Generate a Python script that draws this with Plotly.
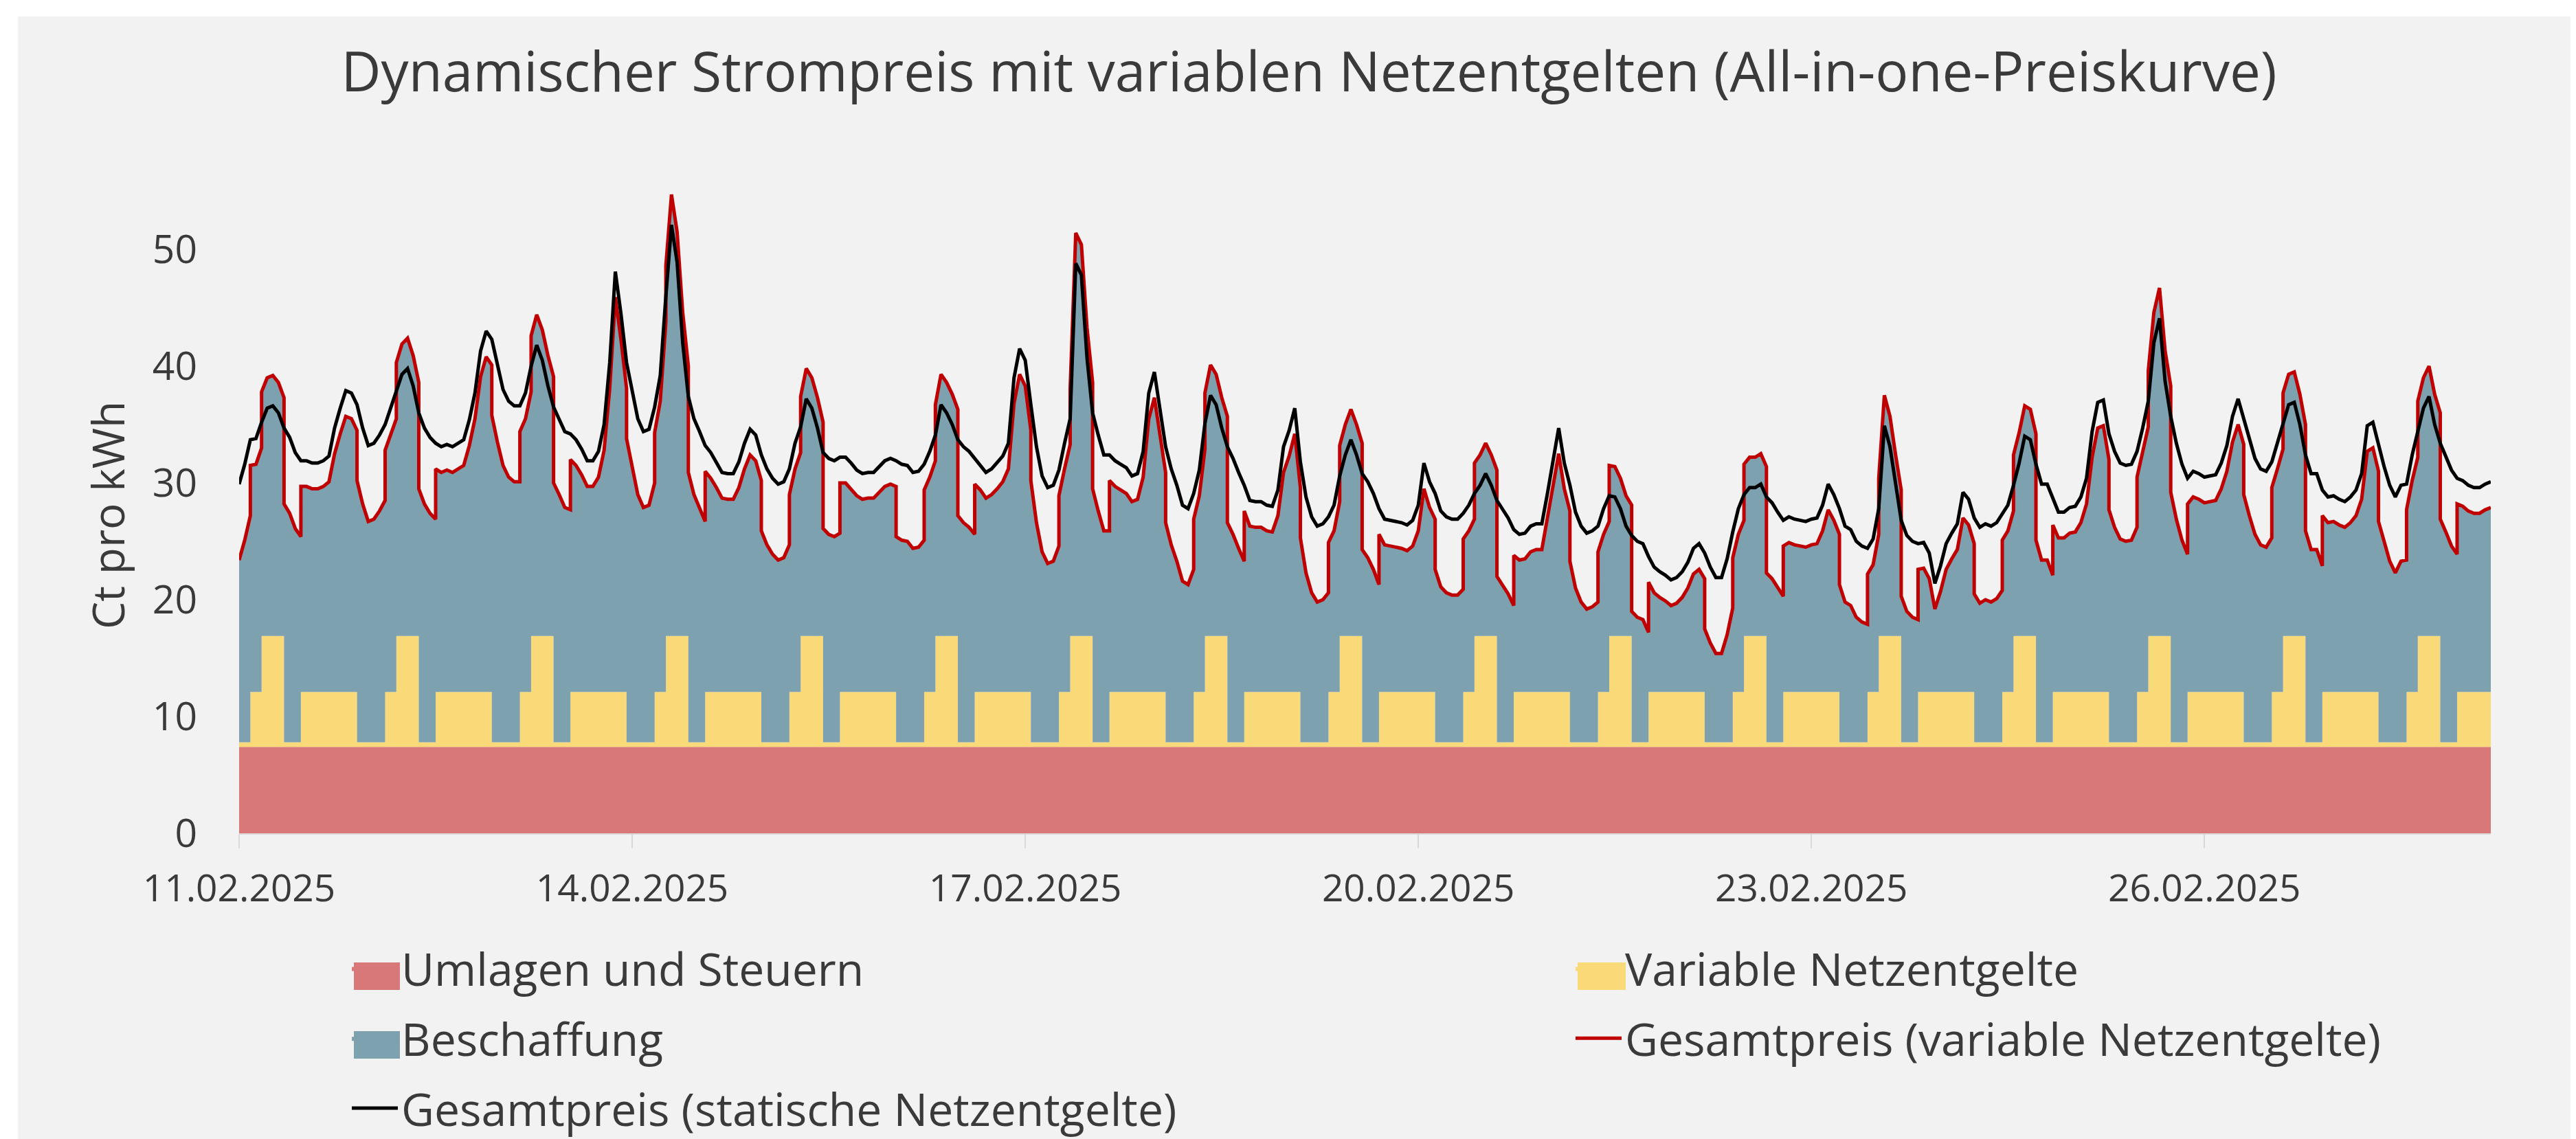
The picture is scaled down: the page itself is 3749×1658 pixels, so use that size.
import pandas as pd
import plotly.graph_objects as go

# ---------------- data ----------------
title_text = "Dynamischer Strompreis mit variablen Netzentgelten (All-in-one-Preiskurve)"
y_title = "Ct pro kWh"
start_time = "2025-02-11 13:00"

# Gesamtpreis mit statischen Netzentgelten (ct/kWh), stündlich ab 11.02.2025 13:00
gesamtpreis_statisch = [
    29.9, 31.6, 33.7, 33.8, 35.2, 36.4, 36.6, 36.0, 34.7, 33.9, 32.6, 31.9, 31.9, 31.7, 31.7, 31.9, 32.3,
    34.7, 36.4, 37.9, 37.7, 36.7, 34.7, 33.2, 33.4, 34.1, 35.0, 36.4, 37.7, 39.3, 39.8, 38.3, 36.0, 34.7,
    33.9, 33.4, 33.1, 33.3, 33.1, 33.4, 33.7, 35.4, 37.7, 41.3, 43.0, 42.3, 40.0, 38.0, 37.0, 36.6, 36.6,
    37.7, 40.0, 41.8, 40.5, 38.3, 36.5, 35.5, 34.4, 34.2, 33.7, 32.9, 31.9, 31.9, 32.7, 35.0, 40.3, 48.1,
    44.5, 40.3, 37.7, 35.5, 34.4, 34.6, 36.5, 39.2, 46.0, 52.1, 48.9, 42.0, 37.4, 35.5, 34.4, 33.2, 32.6,
    31.8, 30.9, 30.8, 30.8, 31.8, 33.4, 34.6, 34.1, 32.4, 31.2, 30.4, 29.9, 30.1, 31.2, 33.4, 34.8,
    37.2, 36.4, 34.7, 32.6, 32.1, 31.9, 32.2, 32.2, 31.7, 31.1, 30.8, 30.9, 30.9, 31.4, 31.9, 32.1, 31.9,
    31.6, 31.5, 30.9, 31.0, 31.6, 32.7, 34.1, 36.7, 36.0, 35.0, 33.7, 33.1, 32.7, 32.1, 31.6, 30.9, 31.2,
    31.7, 32.3, 33.4, 39.0, 41.5, 40.5, 36.7, 33.1, 30.6, 29.6, 29.8, 31.1, 33.4, 35.5, 48.8, 47.8,
    40.7, 36.0, 34.1, 32.4, 32.4, 31.9, 31.6, 31.3, 30.6, 30.8, 32.7, 37.7, 39.5, 36.4, 33.1, 31.2, 29.8,
    28.1, 27.8, 29.1, 31.1, 35.1, 37.5, 36.7, 34.7, 33.1, 32.1, 30.9, 29.8, 28.5, 28.4, 28.4, 28.1, 28.0,
    29.4, 33.1, 34.5, 36.4, 31.8, 28.8, 27.1, 26.3, 26.5, 27.1, 28.1, 30.6, 32.4, 33.7, 32.4, 30.8,
    30.1, 29.1, 27.8, 26.9, 26.8, 26.7, 26.6, 26.4, 26.8, 28.1, 31.7, 30.1, 29.1, 27.6, 27.1, 26.9, 26.9,
    27.4, 28.1, 29.1, 29.8, 30.8, 29.8, 28.5, 27.8, 27.0, 26.0, 25.6, 25.7, 26.3, 26.5, 26.5, 29.1, 32.0,
    34.7, 31.7, 29.8, 27.5, 26.3, 25.7, 25.9, 26.3, 27.8, 28.9, 28.8, 27.8, 26.3, 25.5, 25.0, 24.8,
    23.7, 22.8, 22.4, 22.1, 21.7, 21.9, 22.4, 23.2, 24.4, 24.8, 24.0, 22.8, 21.9, 21.9, 23.5, 25.8, 27.8,
    29.0, 29.6, 29.6, 29.9, 28.8, 28.3, 27.5, 26.8, 27.1, 26.9, 26.8, 26.7, 26.9, 27.0, 28.1, 29.9, 29.0,
    27.8, 26.3, 26.0, 25.0, 24.6, 24.4, 25.2, 27.8, 34.9, 33.1, 29.8, 26.8, 25.5, 25.0, 24.8, 24.9,
    24.0, 21.4, 22.9, 24.8, 25.7, 26.5, 29.2, 28.6, 27.0, 26.2, 26.5, 26.3, 26.6, 27.3, 28.1, 29.8, 31.7,
    34.0, 33.7, 31.6, 29.9, 29.9, 28.6, 27.5, 27.5, 27.9, 28.0, 28.8, 30.4, 34.4, 36.9, 37.1, 34.2, 32.7,
    31.7, 31.5, 31.6, 32.7, 34.7, 37.0, 42.0, 44.1, 38.7, 35.7, 33.4, 31.6, 30.4, 31.0, 30.8, 30.5,
    30.6, 30.7, 31.7, 33.2, 35.7, 37.2, 35.5, 33.7, 32.1, 31.2, 31.0, 31.8, 33.4, 35.1, 36.7, 36.9, 35.0,
    32.4, 30.8, 30.8, 29.4, 28.8, 28.9, 28.6, 28.4, 28.8, 29.4, 30.8, 34.9, 35.2, 33.2, 31.4, 29.8, 28.8,
    29.8, 29.9, 32.4, 34.4, 36.4, 37.4, 35.0, 33.4, 32.3, 31.1, 30.4, 30.2, 29.8, 29.6, 29.6, 29.9, 30.1,
]

umlagen_und_steuern = 7.4          # ct/kWh, konstant
statisches_netzentgelt = 6.9       # ct/kWh
netzentgelt_stufen = {"NT": 0.4, "ST": 4.7, "HT": 9.5}
zone_je_stunde = ["ST", "ST", "ST", "ST", "ST", "ST", "ST", "ST", "ST", "ST",
                  "NT", "NT", "NT", "NT", "NT", "ST", "ST", "HT", "HT", "HT",
                  "HT", "NT", "NT", "NT"]

tick_labels = ["11.02.2025", "14.02.2025", "17.02.2025", "20.02.2025", "23.02.2025", "26.02.2025"]
tick_times = ["2025-02-11 13:00", "2025-02-14 11:00", "2025-02-17 09:00",
              "2025-02-20 07:00", "2025-02-23 05:00", "2025-02-26 03:00"]

names = ["Umlagen und Steuern", "Variable Netzentgelte", "Beschaffung",
         "Gesamtpreis (variable Netzentgelte)", "Gesamtpreis (statische Netzentgelte)"]
colors = ["#D97878", "#F9D978", "#7EA1B0", "#C00000", "#000000"]

# ---------------- derived series ----------------
times = pd.date_range(start_time, periods=len(gesamtpreis_statisch), freq="h")
beschaffung = [g - umlagen_und_steuern - statisches_netzentgelt for g in gesamtpreis_statisch]
variabel = [netzentgelt_stufen[zone_je_stunde[t.hour]] for t in times]

xs, y_uml, y_var, y_top = [], [], [], []
for i, t in enumerate(times):
    if i > 0 and variabel[i] != variabel[i - 1]:
        xs.append(t)
        y_uml.append(umlagen_und_steuern)
        y_var.append(umlagen_und_steuern + variabel[i - 1])
        y_top.append(umlagen_und_steuern + variabel[i - 1] + beschaffung[i])
    xs.append(t)
    y_uml.append(umlagen_und_steuern)
    y_var.append(umlagen_und_steuern + variabel[i])
    y_top.append(umlagen_und_steuern + variabel[i] + beschaffung[i])

FONT = "Open Sans"
TXT = "#3a3a3a"

fig = go.Figure()
fig.add_trace(go.Scatter(x=xs, y=y_uml, mode="lines", line=dict(width=0), fill="tozeroy",
                         fillcolor=colors[0], name=names[0], legend="legend", legendgroup="g1",
                         hoverinfo="skip"))
fig.add_trace(go.Scatter(x=xs, y=y_var, mode="lines", line=dict(width=0), fill="tonexty",
                         fillcolor=colors[1], name=names[1], legend="legend2", legendgroup="g2",
                         hoverinfo="skip"))
fig.add_trace(go.Scatter(x=xs, y=y_top, mode="lines", line=dict(width=0), fill="tonexty",
                         fillcolor=colors[2], name=names[2], legend="legend", legendgroup="g3",
                         hoverinfo="skip"))
fig.add_trace(go.Scatter(x=xs, y=y_top, mode="lines", line=dict(width=5, color=colors[3]),
                         name=names[3], legend="legend2", legendgroup="g4", hoverinfo="skip"))
fig.add_trace(go.Scatter(x=times, y=gesamtpreis_statisch, mode="lines",
                         line=dict(width=5, color=colors[4]),
                         name=names[4], legend="legend", legendgroup="g5", hoverinfo="skip"))

W, H = 3749, 1658
L, R, T, B = 340, 132, 253, 453
pw, ph = W - L - R, H - T - B

LEG_TOP = 1352
LEG1_X, LEG2_X = 499, 2280

legend_common = dict(
    orientation="v", font=dict(family=FONT, size=66, color=TXT),
    bgcolor="rgba(0,0,0,0)", itemwidth=67, tracegroupgap=13,
    xref="container", yref="container", xanchor="left", yanchor="top",
)


def px_to_paper_x(px):
    return (px - L) / pw


def px_to_paper_y(py):
    return ((H - B) - py) / ph


def swatch(x0, x1, yc, color):
    return dict(type="rect", xref="paper", yref="paper", layer="above",
                x0=px_to_paper_x(x0), x1=px_to_paper_x(x1),
                y0=px_to_paper_y(yc + 20), y1=px_to_paper_y(yc - 20),
                fillcolor=color, line=dict(width=0))


shapes = [
    dict(type="rect", xref="paper", yref="paper", layer="below",
         x0=px_to_paper_x(18), x1=px_to_paper_x(3735),
         y0=px_to_paper_y(H + 5), y1=px_to_paper_y(16),
         fillcolor="#f2f2f2", line=dict(width=0)),
    swatch(507, 574, 1413, colors[0]),
    swatch(507, 574, 1513, colors[2]),
    swatch(2288, 2358, 1413, colors[1]),
]

fig.update_layout(
    width=W, height=H,
    margin=dict(l=L, r=R, t=T, b=B, autoexpand=False),
    paper_bgcolor="#ffffff",
    plot_bgcolor="rgba(0,0,0,0)",
    showlegend=True,
    font=dict(family=FONT, color=TXT),
    title=dict(text=title_text, x=1897 / W, xanchor="center", xref="container",
               y=1 - 97 / H, yanchor="middle", yref="container",
               font=dict(family=FONT, size=80, color=TXT)),
    legend=dict(x=LEG1_X / W, y=1 - LEG_TOP / H, **legend_common),
    legend2=dict(x=LEG2_X / W, y=1 - LEG_TOP / H, **legend_common),
    xaxis=dict(
        type="date", range=[times[0], times[-1]],
        tickvals=tick_times, ticktext=tick_labels, tickangle=0,
        ticks="outside", ticklen=20, tickwidth=2, tickcolor="#d9d9d9",
        ticklabelstandoff=11,
        showline=True, linecolor="#d9d9d9", linewidth=2,
        showgrid=False, zeroline=False,
        tickfont=dict(family=FONT, size=55, color=TXT),
    ),
    yaxis=dict(
        range=[0, 56], tickvals=[0, 10, 20, 30, 40, 50],
        ticks="", ticklabelstandoff=60,
        showgrid=False, zeroline=False, showline=False,
        tickfont=dict(family=FONT, size=57, color=TXT),
    ),
    annotations=[dict(text=y_title, textangle=-90, xref="paper", yref="paper",
                      x=px_to_paper_x(148), y=px_to_paper_y(742),
                      xanchor="center", yanchor="middle", showarrow=False,
                      font=dict(family=FONT, size=64, color=TXT))],
    shapes=shapes,
)

fig.write_html("out.html")
